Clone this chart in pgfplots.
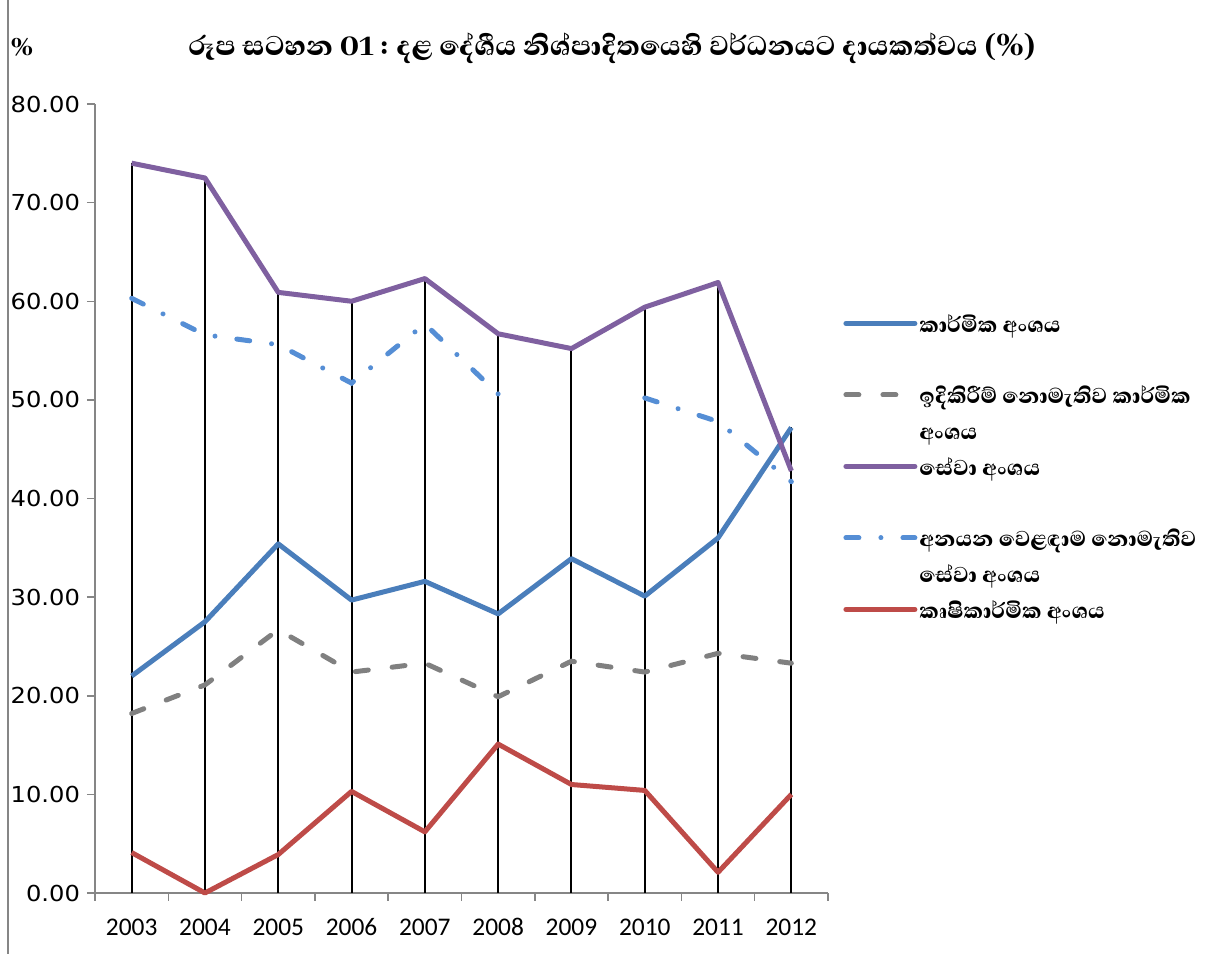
\documentclass[border=0pt]{standalone}
\usepackage{fontspec}
\usepackage{pgfplots}
\pgfplotsset{compat=1.18}
\setmainfont{Carlito}[Numbers=Lining]
\IfFontExistsTF{Abhaya Libre ExtraBold}{%
  \newfontfamily\sinhfont{Abhaya Libre ExtraBold}[Script=Sinhala]}{%
  \IfFontExistsTF{Abhaya Libre Bold}{%
    \newfontfamily\sinhfont{Abhaya Libre Bold}[Script=Sinhala, FakeBold=1.2]}{%
    \newfontfamily\sinhfontx{Abhaya Libre}[Script=Sinhala]\newcommand{\sinhfont}{\sinhfontx\bfseries}}}
\newfontfamily\yfont{DejaVu Sans}[FakeStretch=1.1]
\definecolor{cInd}{HTML}{4A7EBB}
\definecolor{cGray}{HTML}{808080}
\definecolor{cPur}{HTML}{7F60A0}
\definecolor{cLb}{HTML}{558ED5}
\definecolor{cRed}{HTML}{BE4B48}
\definecolor{axgray}{HTML}{868686}
\pgfplotsset{mylegimg/.style={legend image code/.code={\draw[##1, line cap=round] (0pt,4.5pt) -- (34.5pt,4.5pt);}}}
\begin{document}
\begin{tikzpicture}[x=1pt,y=1pt]
\useasboundingbox (0,0) rectangle (608.5,477);
\draw[axgray, line width=0.75pt] (4,0) -- (4,477);
\node[font=\sinhfont\fontsize{17.4}{20}\selectfont] at (306,453) {රූප සටහන 01 : දළ දේශීය නිශ්පාදිතයෙහි වර්ධනයට දායකත්වය (\%)};
\node[font=\sinhfont\fontsize{14}{16}\selectfont] at (11,453.5) {\%};
\begin{axis}[
  at={(47.5pt,30.5pt)}, anchor=south west, scale only axis,
  width=366.5pt, height=394.5pt,
  xmin=-0.5, xmax=9.5, ymin=0, ymax=80,
  axis x line*=bottom, axis y line*=left,
  axis line style={axgray, line width=0.75pt},
  xtick={-0.5,0.5,...,9.5}, xticklabels={,,},
  extra x ticks={0,1,2,3,4,5,6,7,8,9},
  extra x tick labels={2003,2004,2005,2006,2007,2008,2009,2010,2011,2012},
  extra x tick style={major tick length=0pt, tick label style={font=\fontsize{12.7}{14}\selectfont, anchor=base, yshift=-21pt}},
  ytick={0,10,...,80},
  tick align=outside, major tick length=4pt,
  tick style={axgray, line width=0.75pt},
  yticklabel style={font=\yfont\fontsize{11}{13}\selectfont, /pgf/number format/.cd, fixed, fixed zerofill, precision=2, assume math mode=true},
  unbounded coords=jump,
  clip=false,
  mylegimg,
  legend style={at={(1.0205,0.7414)}, anchor=north west, draw=none, fill=none, inner sep=0pt, row sep=0pt, column sep=0pt,
    nodes={anchor=base west, inner sep=0pt, text height=12pt, text depth=5.875pt}, cells={anchor=base west},
    font=\sinhfont\fontsize{13.8}{16}\selectfont},
]
\addplot[ycomb, black, line width=1pt, forget plot] coordinates {(0,74.0)(1,72.5)(2,60.9)(3,60.0)(4,62.3)(5,56.7)(6,55.2)(7,59.4)(8,61.9)(9,47.2)};
\addplot[cInd, line width=2.5pt, line join=round]
  coordinates {(0,22.0)(1,27.5)(2,35.4)(3,29.7)(4,31.6)(5,28.3)(6,33.9)(7,30.1)(8,36.0)(9,47.2)};
\addlegendentry{\hspace{1pt}කාර්මික අංශය}
\addlegendimage{empty legend}
\addlegendentry{}
\addplot[cGray, line width=2.5pt, line cap=round, dash pattern=on 6.5pt off 12pt]
  coordinates {(0,18.2)(1,21.1)(2,26.7)(3,22.4)(4,23.3)(5,19.9)(6,23.5)(7,22.4)(8,24.3)(9,23.3)};
\addlegendentry{\hspace{1pt}ඉදිකිරීම් නොමැතිව කාර්මික}
\addlegendimage{empty legend}
\addlegendentry{\hspace{1pt}අංශය}
\addplot[cPur, line width=2.5pt, line join=round]
  coordinates {(0,74.0)(1,72.5)(2,60.9)(3,60.0)(4,62.3)(5,56.7)(6,55.2)(7,59.4)(8,61.9)(9,42.8)};
\addlegendentry{\hspace{1pt}සේවා අංශය}
\addlegendimage{empty legend}
\addlegendentry{}
\addplot[cLb, line width=2.5pt, line cap=round, dash pattern=on 6.5pt off 11pt on 0.01pt off 11pt]
  coordinates {(0,60.3)(1,56.6)(2,55.6)(3,51.7)(4,57.7)(5,50.6)(6,nan)(7,50.2)(8,47.8)(9,41.7)};
\addlegendentry{\hspace{1pt}අනයන වෙළඳාම නොමැතිව}
\addlegendimage{empty legend}
\addlegendentry{\hspace{1pt}සේවා අංශය}
\addplot[cRed, line width=2.5pt, line join=round]
  coordinates {(0,4.1)(1,0.0)(2,3.9)(3,10.3)(4,6.2)(5,15.1)(6,11.0)(7,10.4)(8,2.1)(9,10.0)};
\addlegendentry{\hspace{1pt}කෘෂිකාර්මික අංශය}
\end{axis}
\end{tikzpicture}
\end{document}
